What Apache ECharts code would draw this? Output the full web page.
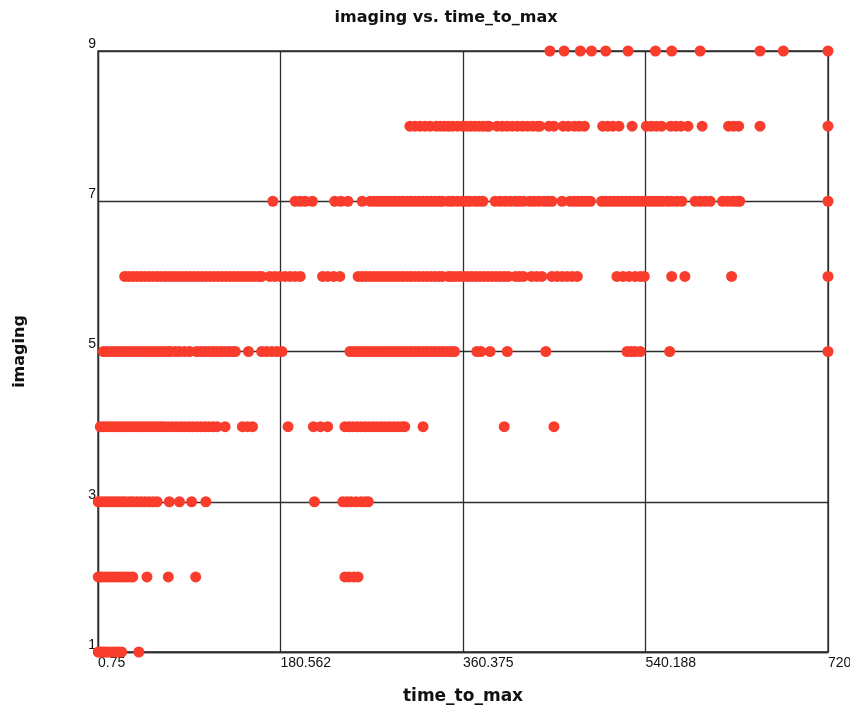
<!DOCTYPE html>
<html>
<head>
<meta charset="utf-8">
<script src="https://cdn.jsdelivr.net/npm/echarts@6/dist/echarts.min.js"></script>
<style>
  html, body { margin: 0; padding: 0; background: #ffffff; }
  #chart { width: 850px; height: 710px; }
</style>
</head>
<body>
<div id="chart"></div>
<script>
// time_to_max readings grouped by imaging level
const imaging1 = [1, 3, 5, 7, 9, 12, 15, 18, 21, 24, 41];
const imaging2 = [1, 3, 5, 8, 11, 14, 17, 20, 23, 26, 29, 32, 35, 49, 70, 97, 244, 248, 253, 257];
const imaging3 = [1, 4, 7, 10, 13, 16, 19, 22, 25, 28, 32, 35, 39, 43, 47, 51, 55, 59, 71, 81, 93, 107,
  214, 242, 246, 250, 255, 260, 264, 267];
const imaging4 = [3, 6, 9, 12, 15, 18, 21, 24, 27, 30, 33, 36, 39, 42, 45, 48, 51, 54, 57, 60, 63, 66,
  70, 74, 78, 82, 86, 90, 94, 98, 102, 106, 110, 114, 118, 126, 143, 148, 153, 188, 213, 220, 227,
  244, 248, 252, 256, 260, 264, 268, 272, 276, 280, 284, 288, 292, 296, 300, 303, 321, 401, 450];
const imaging5 = [6, 10, 14, 18, 22, 26, 30, 34, 38, 42, 46, 50, 54, 58, 62, 66, 70, 72, 77, 81, 86, 91,
  98, 102, 106, 110, 114, 118, 122, 126, 130, 134, 136, 149, 162, 167, 172, 177, 182,
  249, 253, 257, 261, 265, 269, 273, 277, 281, 285, 289, 293, 297, 301, 305, 309, 313, 317, 321,
  325, 329, 333, 337, 341, 345, 349, 352, 374, 378, 387, 404, 442, 522, 526, 530, 535, 564, 720];
const imaging6 = [27, 31, 35, 39, 43, 47, 51, 55, 59, 63, 67, 71, 75, 79, 83, 87, 91, 95, 99, 103, 107,
  111, 115, 119, 123, 127, 131, 135, 139, 143, 147, 151, 155, 159, 162, 170, 175, 180, 185, 190, 195,
  200, 222, 227, 233, 239, 257, 261, 265, 269, 273, 277, 281, 285, 289, 293, 297, 301, 305, 309, 313,
  317, 321, 325, 329, 333, 337, 340, 346, 349, 353, 357, 361, 365, 369, 373, 377, 381, 385, 389, 393,
  397, 401, 405, 412, 416, 420, 428, 433, 438, 448, 453, 458, 463, 468, 473, 512, 518, 524, 530, 535,
  539, 566, 579, 625, 720];
const imaging7 = [173, 195, 200, 205, 212, 234, 240, 247, 261, 269, 273, 277, 281, 285, 289, 293, 297,
  301, 305, 309, 313, 317, 321, 325, 329, 333, 337, 340, 346, 350, 355, 360, 364, 367, 372, 376, 380,
  392, 397, 402, 407, 412, 416, 420, 426, 430, 435, 440, 444, 448, 458, 466, 470, 474, 478, 482, 486,
  497, 501, 505, 509, 513, 517, 521, 525, 529, 533, 537, 541, 545, 549, 553, 557, 562, 566, 571, 576,
  589, 594, 599, 604, 616, 621, 626, 630, 633, 720];
const imaging8 = [308, 313, 318, 323, 328, 334, 338, 342, 346, 350, 355, 360, 364, 368, 372, 376, 380,
  384, 386, 394, 399, 404, 409, 414, 419, 424, 429, 434, 436, 445, 450, 459, 464, 470, 475, 480,
  498, 503, 508, 514, 527, 541, 546, 551, 556, 565, 570, 575, 582, 596, 622, 627, 632, 653, 720];
const imaging9 = [446, 460, 476, 487, 501, 523, 550, 566, 594, 653, 676, 720];

const imagingLevels = [1, 2, 3, 4, 5, 6, 7, 8, 9];
const timesByLevel = [imaging1, imaging2, imaging3, imaging4, imaging5, imaging6, imaging7, imaging8, imaging9];

const xTickLabels = ['0.75', '180.562', '360.375', '540.188', '720'];
const yTickLabels = ['1', '3', '5', '7', '9'];

const X_MIN = 0.75, X_MAX = 720;
const Y_MIN = 1, Y_MAX = 9;
const X_STEP = (X_MAX - X_MIN) / 4;
const Y_STEP = 2;

// axes are measured from their minimum so tick spacing starts at zero
const points = [];
imagingLevels.forEach((lvl, i) => {
  timesByLevel[i].forEach(t => points.push([t - X_MIN, lvl - Y_MIN]));
});

const chart = echarts.init(document.getElementById('chart'), null, { renderer: 'canvas' });

const lineColor = '#2e2e2e';

chart.setOption({
  backgroundColor: '#ffffff',
  animation: false,
  title: {
    text: 'imaging vs. time_to_max',
    left: 441,
    textAlign: 'center',
    top: 5,
    textStyle: { fontFamily: 'DejaVu Sans', fontWeight: 'bold', fontSize: 16, color: '#111' }
  },
  grid: {
    left: 98, right: 22, top: 51, bottom: 58,
    outerBoundsMode: 'none',
    containLabel: false,
    show: true, borderColor: lineColor, borderWidth: 1.3, backgroundColor: '#ffffff'
  },
  xAxis: {
    type: 'value',
    min: 0, max: X_MAX - X_MIN, interval: X_STEP,
    name: 'time_to_max',
    nameLocation: 'middle',
    nameGap: 36,
    nameTextStyle: { fontFamily: 'DejaVu Sans', fontWeight: 'bold', fontSize: 17, color: '#111' },
    axisLine: { show: true, lineStyle: { color: lineColor, width: 1.3 } },
    axisTick: { show: false },
    splitLine: { show: true, lineStyle: { color: lineColor, width: 1.3 } },
    axisLabel: {
      margin: 4,
      align: 'left',
      fontFamily: 'Liberation Sans',
      fontSize: 14,
      color: '#111',
      formatter: (v) => xTickLabels[Math.round(v / X_STEP)] || ''
    }
  },
  yAxis: {
    type: 'value',
    min: 0, max: Y_MAX - Y_MIN, interval: Y_STEP,
    name: 'imaging',
    nameLocation: 'middle',
    nameRotate: 90,
    nameGap: 70,
    nameTextStyle: { fontFamily: 'DejaVu Sans', fontWeight: 'bold', fontSize: 16, color: '#111' },
    axisLine: { show: true, lineStyle: { color: lineColor, width: 1.3 } },
    axisTick: { show: false },
    splitLine: { show: true, lineStyle: { color: lineColor, width: 1.3 } },
    axisLabel: {
      margin: 2,
      verticalAlign: 'bottom',
      fontFamily: 'Liberation Sans',
      fontSize: 14,
      color: '#111',
      formatter: (v) => yTickLabels[Math.round(v / Y_STEP)] || ''
    }
  },
  series: [{
    type: 'scatter',
    data: points,
    symbol: 'circle',
    symbolSize: 11,
    itemStyle: { color: '#f93c2c', opacity: 1 },
    emphasis: { disabled: true },
    clip: false
  }]
});
</script>
</body>
</html>
